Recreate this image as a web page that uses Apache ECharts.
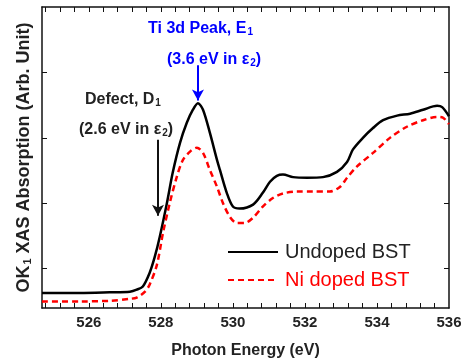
<!DOCTYPE html>
<html>
<head>
<meta charset="utf-8">
<script src="https://cdn.jsdelivr.net/npm/echarts@6/dist/echarts.min.js"></script>
<style>
  html, body { margin: 0; padding: 0; background: #fff; }
  #chart { width: 466px; height: 364px; }
</style>
</head>
<body>
<div id="chart"></div>
<script>
// photon energy (eV) / absorption (arb. unit)
const undopedX = [524.7, 525.75, 526.58, 527.14, 527.33, 527.5, 527.69, 527.83, 527.97, 528.17, 528.33, 528.53, 528.72, 528.89, 529.03, 529.17, 529.36, 529.56, 529.64, 529.83, 530.0, 530.19, 530.56, 530.83, 531.03, 531.22, 531.39, 531.67, 532.06, 532.5, 532.89, 533.17, 533.33, 533.61, 533.89, 534.17, 534.56, 534.92, 535.28, 535.67, 535.81, 536.0];
const undopedY = [-0.37, -0.37, -0.36, -0.35, -0.32, -0.27, -0.06, 0.18, 0.49, 1.01, 1.47, 1.92, 2.23, 2.43, 2.53, 2.43, 2.08, 1.66, 1.51, 1.16, 0.95, 0.92, 0.98, 1.16, 1.33, 1.42, 1.44, 1.4, 1.39, 1.4, 1.48, 1.63, 1.82, 2.0, 2.15, 2.27, 2.34, 2.37, 2.43, 2.49, 2.47, 2.33];
const niX = [524.7, 525.75, 526.58, 527.14, 527.33, 527.56, 527.69, 527.89, 528.06, 528.25, 528.44, 528.61, 528.81, 529.0, 529.17, 529.36, 529.56, 529.72, 529.92, 530.11, 530.33, 530.56, 530.83, 531.11, 531.39, 531.78, 532.22, 532.69, 532.97, 533.17, 533.44, 533.89, 534.36, 534.83, 535.28, 535.67, 535.83, 536.0];
const niY = [-0.5, -0.5, -0.49, -0.46, -0.44, -0.35, -0.24, 0.06, 0.55, 1.01, 1.4, 1.66, 1.79, 1.85, 1.77, 1.51, 1.25, 1.01, 0.79, 0.7, 0.7, 0.78, 0.95, 1.08, 1.15, 1.18, 1.18, 1.18, 1.25, 1.39, 1.56, 1.77, 2.0, 2.17, 2.27, 2.32, 2.31, 2.21];

const xLabels = [526, 528, 530, 532, 534, 536];
const xTicks = [524.8, 525.2, 525.6, 526, 526.4, 526.8, 527.2, 527.6, 528, 528.4, 528.8, 529.2, 529.6, 530, 530.4, 530.8, 531.2, 531.6, 532, 532.4, 532.8, 533.2, 533.6, 534, 534.4, 534.8, 535.2, 535.6];
const yTicks = [0, 1, 2, 3];

const peakArrow = [[529.03, 3.11], [529.03, 2.57]];
const defectArrow = [[527.92, 1.97], [527.92, 0.81]];

const font = "'Liberation Sans', Arial, sans-serif";
const zip = (xs, ys) => xs.map((x, i) => [x, ys[i]]);

const chart = echarts.init(document.getElementById("chart"));

const axisBase = {
  type: "value",
  min: 524.7,
  max: 536,
  axisLine: { show: true, onZero: false, lineStyle: { color: "#111", width: 1.5 } },
  axisTick: { show: true, inside: true, length: 5, customValues: xTicks, lineStyle: { color: "#111", width: 1 } },
  splitLine: { show: false },
};

const yBase = {
  type: "value",
  min: -0.6,
  max: 4,
  axisLine: { show: true, onZero: false, lineStyle: { color: "#111", width: 1.5 } },
  axisTick: { show: true, inside: true, length: 5, customValues: yTicks, lineStyle: { color: "#111" } },
  axisLabel: { show: false },
  splitLine: { show: false },
};

const subRich = {
  sub: { fontSize: 10, fontWeight: "bold", fontFamily: font, padding: [9, 0, 0, 1], lineHeight: 10, verticalAlign: "bottom" },
};

const textMark = (text, left, top, color) => ({
  type: "text", left: left, top: top,
  style: {
    text: text, fill: color, fontSize: 16, fontWeight: "bold", fontFamily: font,
    rich: { sub: Object.assign({}, subRich.sub, { fill: color }) },
  },
});

chart.setOption({
  animation: false,
  backgroundColor: "#fff",
  grid: { left: 42, right: 17, top: 7, bottom: 56 },
  xAxis: [
    Object.assign({}, axisBase, {
      position: "bottom",
      name: "Photon Energy (eV)",
      nameLocation: "middle",
      nameGap: 35,
      nameTextStyle: { fontSize: 16, fontWeight: "bold", color: "#222", fontFamily: font },
      axisLabel: { customValues: xLabels, fontSize: 15, fontWeight: "bold", color: "#222", fontFamily: font, margin: 7 },
    }),
    Object.assign({}, axisBase, {
      position: "top",
      axisLabel: { show: false },
    }),
  ],
  yAxis: [
    Object.assign({}, yBase, {
      position: "left",
      name: "OK{sub|1} XAS Absorption (Arb. Unit)",
      nameLocation: "middle",
      nameGap: 9,
      nameTextStyle: {
        fontSize: 18, fontWeight: "bold", color: "#222", fontFamily: font,
        rich: { sub: Object.assign({}, subRich.sub, { fontSize: 11, padding: [10, 0, 0, 1] }) },
      },
    }),
    Object.assign({}, yBase, { position: "right" }),
  ],
  legend: {
    orient: "vertical",
    left: 222,
    top: 237,
    itemWidth: 50,
    itemHeight: 14,
    itemGap: 8,
    itemStyle: { opacity: 0 },
    textStyle: { fontSize: 20, fontFamily: font, padding: [0, 0, 0, 2] },
    data: [
      { name: "Undoped BST", textStyle: { color: "#222" } },
      { name: "Ni doped BST", textStyle: { color: "#ff0000" } },
    ],
  },
  series: [
    {
      name: "Undoped BST",
      type: "line",
      data: zip(undopedX, undopedY),
      smooth: 0.3,
      symbol: "none",
      lineStyle: { color: "#000", width: 2.5 },
      itemStyle: { color: "#000" },
      markLine: {
        silent: true,
        symbol: ["none", "arrow"],
        symbolSize: [9, 11],
        label: { show: false },
        data: [
          [
            { coord: peakArrow[0], lineStyle: { color: "#0000ff", width: 2, type: "solid" }, itemStyle: { color: "#0000ff" } },
            { coord: peakArrow[1] },
          ],
          [
            { coord: defectArrow[0], lineStyle: { color: "#111", width: 2, type: "solid" }, itemStyle: { color: "#111" } },
            { coord: defectArrow[1] },
          ],
        ],
      },
    },
    {
      name: "Ni doped BST",
      type: "line",
      data: zip(niX, niY),
      smooth: 0.3,
      symbol: "none",
      lineStyle: { color: "#ff0000", width: 2.5, type: [6, 4] },
      itemStyle: { color: "#ff0000" },
    },
    {
      // keeps the top and right frame axes bound to a series
      name: "frame",
      type: "line",
      xAxisIndex: 1,
      yAxisIndex: 1,
      data: [],
      symbol: "none",
      silent: true,
    },
  ],
  graphic: [
    textMark("Ti 3d Peak, E{sub|1}", 148, 18, "#0000ff"),
    textMark("(3.6 eV in ε{sub|2})", 167, 49, "#0000ff"),
    textMark("Defect, D{sub|1}", 85, 89, "#222"),
    textMark("(2.6 eV in ε{sub|2})", 79, 119, "#222"),
  ],
});
</script>
</body>
</html>
